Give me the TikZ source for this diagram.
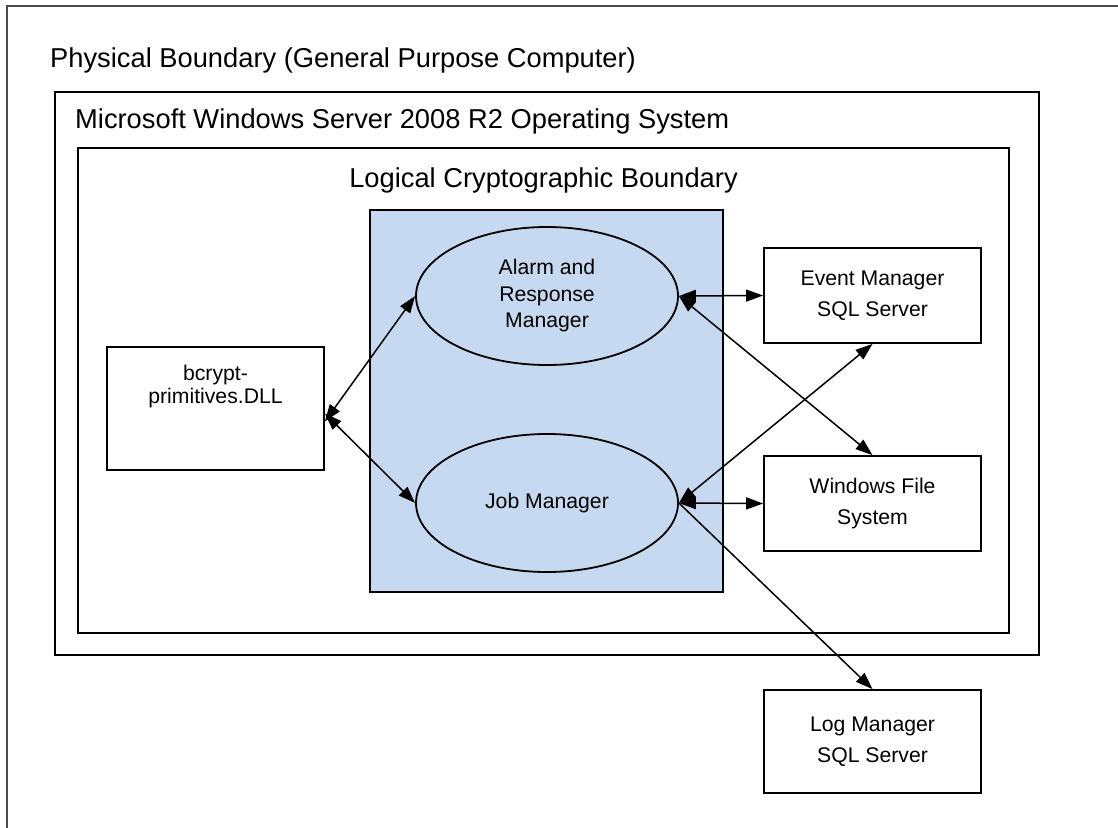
\documentclass[tikz,border=0pt]{standalone}
\usepackage{fontspec}
\setmainfont{Liberation Sans}
\usetikzlibrary{arrows.meta,shapes.geometric}
\definecolor{cryptblue}{RGB}{198,217,241}
\begin{document}
\begin{tikzpicture}[x=1pt,y=-1pt,line join=miter,
            font=\fontsize{21.2}{31}\selectfont,
            bound/.style={draw,line width=2pt,inner sep=0pt},
            comp/.style={draw,line width=1.8pt,minimum width=217pt,minimum height=95pt,align=center},
            proc/.style={ellipse,draw,line width=1.8pt,minimum width=262pt,minimum height=138pt,inner sep=0pt,align=center,
              font=\fontsize{21.2}{26.5}\selectfont},
            lbl/.style={anchor=west,inner sep=0pt,font=\fontsize{27.3}{30}\selectfont},
            arr/.style={line width=1.5pt,{Triangle[length=17pt,width=12pt]}-{Triangle[length=17pt,width=12pt]}},
            arrto/.style={line width=1.5pt,-{Triangle[length=17pt,width=12pt]}}]
            \useasboundingbox (0,0) rectangle (1118,827);
            % physical boundary, runs off the page to the right and below
            \coordinate (physsw) at (7,840);
            \coordinate (physne) at (1130,6);
            \draw[line width=2pt,black!70] (physsw) |- (physne);
            \node[lbl] (physlbl) at (50,60) {Physical Boundary (General Purpose Computer)};
            % operating system and logical boundary
            \node[bound,minimum width=984pt,minimum height=563pt] (os) at (547,373.5) {};
            \node[lbl] (oslbl) at (75,121) {Microsoft Windows Server 2008 R2 Operating System};
            \node[bound,minimum width=931pt,minimum height=485pt] (logic) at (543.5,390.5) {};
            \node[inner sep=0pt,font=\fontsize{27.3}{30}\selectfont] (logiclbl) at (543.5,180) {Logical Cryptographic Boundary};
            \node[bound,fill=cryptblue,minimum width=353pt,minimum height=382pt] (crypt) at (546.5,401) {};
            % processes
            \node[proc] (alarm) at (547,296) {Alarm and\\Response\\Manager};
            \node[proc] (job) at (547,503) {Job Manager};
            % components
            \node[comp,minimum height=123pt] (bcrypt) at (215.5,408.5) {};
            \node[align=center,inner sep=0pt,font=\fontsize{21.2}{23}\selectfont] (bcryptlbl) at (215.5,387) {bcrypt-\\primitives.DLL};
            \node[comp] (event) at (872.5,295.5) {Event Manager\\SQL Server};
            \node[comp] (wfs) at (872.5,503.5) {Windows File\\System};
            \node[comp,minimum height=103pt] (log) at (872.5,741.5) {Log Manager\\SQL Server};
            % connectors
            \draw[arr] ([yshift=-13pt]bcrypt.east) -- (alarm.west);
            \draw[arr] ([yshift=-5pt]bcrypt.east) -- (job.west);
            \draw[arr] (alarm.east) -- (event.west);
            \draw[arr] (alarm.east) -- (wfs.north);
            \draw[arr] (job.east) -- (event.south);
            \draw[arr] (job.east) -- (wfs.west);
            \draw[arrto] (job.east) -- (log.north);
        \end{tikzpicture}
\end{document}
